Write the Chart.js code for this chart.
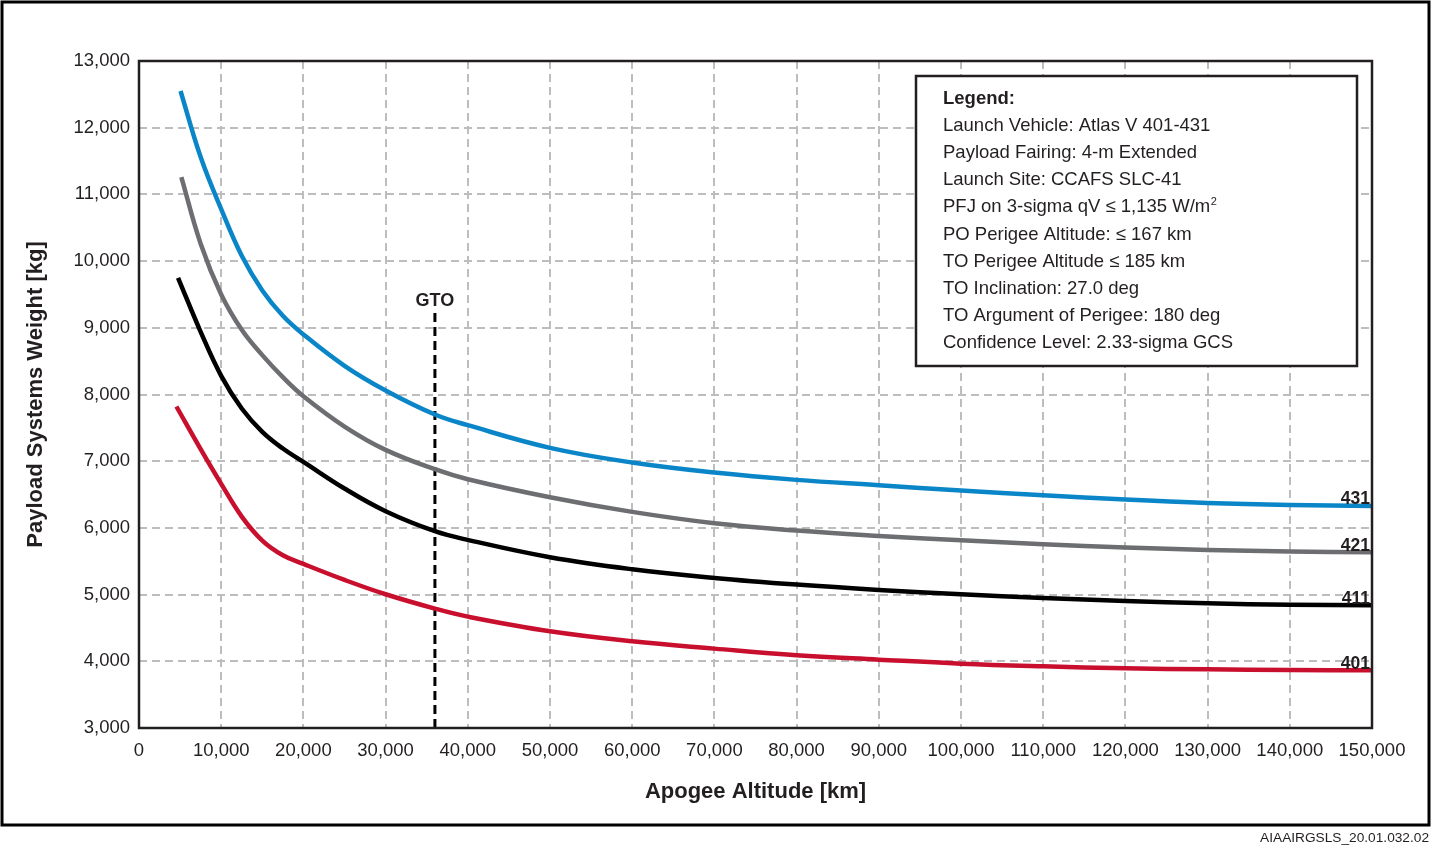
<!DOCTYPE html>
<html>
<head>
<meta charset="utf-8">
<title>Atlas V 401-431 Payload Systems Weight vs Apogee Altitude</title>
<script src="https://cdn.jsdelivr.net/npm/chart.js@4.4.1/dist/chart.umd.min.js"></script>
<style>
  html, body { margin: 0; padding: 0; background: #fff; }
</style>
</head>
<body>
<canvas id="perfChart" width="1432" height="848"></canvas>
<script>
// Data
const altitudeKm = [7500, 10000, 12500, 15000, 17500, 20000, 25000, 30000, 36000, 40000, 50000,
    60000, 70000, 80000, 90000, 100000, 110000, 120000, 130000, 140000, 150000];
const vehicles = ['431', '421', '411', '401'];
const firstKm = [5050, 5150, 4750, 4550];
const firstKg = [12550, 11260, 9750, 7820];
const payload431 = [11560, 10780, 10080, 9560, 9180, 8900, 8430, 8060, 7700, 7540, 7200,
    6980, 6830, 6720, 6640, 6560, 6490, 6425, 6375, 6345, 6330];
const payload421 = [10260, 9500, 8970, 8590, 8260, 7975, 7520, 7170, 6880, 6730, 6460,
    6240, 6070, 5960, 5880, 5815, 5755, 5705, 5670, 5645, 5635];
const payload411 = [8940, 8280, 7790, 7440, 7190, 6990, 6590, 6250, 5950, 5820, 5560,
    5380, 5250, 5150, 5070, 5005, 4950, 4905, 4870, 4848, 4840];
const payload401 = [7180, 6660, 6170, 5810, 5590, 5460, 5220, 5005, 4790, 4670, 4450,
    4300, 4190, 4090, 4025, 3965, 3925, 3895, 3880, 3870, 3865];
const gtoKm = 36000;
const gtoKgRange = [3000, 9240];
const xRange = [0, 150000, 10000];
const yRange = [3000, 13000, 1000];

const legendTitle = 'Legend:';
const legendLines = [
    'Launch Vehicle: Atlas V 401-431',
    'Payload Fairing: 4-m Extended',
    'Launch Site: CCAFS SLC-41',
    'PFJ on 3-sigma qV \u2264 1,135 W/m',
    'PO Perigee Altitude: \u2264 167 km',
    'TO Perigee Altitude \u2264 185 km',
    'TO Inclination: 27.0 deg',
    'TO Argument of Perigee: 180 deg',
    'Confidence Level: 2.33-sigma GCS'
];
const figureId = 'AIAAIRGSLS_20.01.032.02';

const lineColors = ['#0a86c8', '#6d6e71', '#000000', '#c8102e'];
const SANS = '"Liberation Sans", Arial, sans-serif';

const payloads = [payload431, payload421, payload411, payload401];

function buildSeries(i) {
    const pts = [{ x: firstKm[i], y: firstKg[i] }];
    altitudeKm.forEach((km, j) => pts.push({ x: km, y: payloads[i][j] }));
    return {
        label: vehicles[i],
        data: pts,
        borderColor: lineColors[i],
        borderWidth: 4.5,
        pointRadius: 0,
        tension: 0.4,
        fill: false
    };
}

const datasets = vehicles.map((v, i) => buildSeries(i));
datasets.push({
    label: 'GTO',
    data: [{ x: gtoKm, y: gtoKgRange[0] }, { x: gtoKm, y: gtoKgRange[1] }],
    borderColor: '#000',
    borderWidth: 3,
    borderDash: [9, 5],
    pointRadius: 0
});

// Frame, titles, legend box and curve labels
const decorations = {
    id: 'decorations',
    beforeDraw(chart) {
        const ctx = chart.ctx;
        ctx.save();
        ctx.fillStyle = '#fff';
        ctx.fillRect(0, 0, chart.width, chart.height);
        ctx.restore();
    },
    afterDraw(chart) {
        const ctx = chart.ctx;
        const a = chart.chartArea;
        ctx.save();

        // plot frame
        ctx.strokeStyle = '#231f20';
        ctx.lineWidth = 2.5;
        ctx.strokeRect(a.left, a.top, a.right - a.left, a.bottom - a.top);

        // outer border
        ctx.lineWidth = 3;
        ctx.strokeStyle = '#000';
        ctx.strokeRect(2, 2, 1427, 823);

        // axis titles
        ctx.fillStyle = '#231f20';
        ctx.font = 'bold 22px ' + SANS;
        ctx.textAlign = 'center';
        ctx.textBaseline = 'middle';
        ctx.fillText('Apogee Altitude [km]', (a.left + a.right) / 2, 792);
        ctx.save();
        ctx.translate(36, (a.top + a.bottom) / 2);
        ctx.rotate(-Math.PI / 2);
        ctx.fillText('Payload Systems Weight [kg]', 0, 0);
        ctx.restore();

        // legend box
        ctx.fillStyle = '#fff';
        ctx.fillRect(916, 76, 441, 290);
        ctx.strokeStyle = '#231f20';
        ctx.lineWidth = 2.5;
        ctx.strokeRect(916, 76, 441, 290);
        ctx.fillStyle = '#231f20';
        ctx.textAlign = 'left';
        ctx.textBaseline = 'alphabetic';
        ctx.font = 'bold 18.5px ' + SANS;
        ctx.fillText(legendTitle, 943, 103.5);
        ctx.font = '18.5px ' + SANS;
        legendLines.forEach((t, i) => {
            const y = 130.7 + i * 27.2;
            ctx.fillText(t, 943, y);
            if (t.endsWith('W/m')) {
                const w = ctx.measureText(t).width;
                ctx.font = '11px ' + SANS;
                ctx.fillText('2', 943 + w + 0.5, y - 7);
                ctx.font = '18.5px ' + SANS;
            }
        });

        // curve end labels
        ctx.font = 'bold 17.5px ' + SANS;
        ctx.textAlign = 'right';
        vehicles.forEach((v, i) => {
            const meta = chart.getDatasetMeta(i);
            const last = meta.data[meta.data.length - 1];
            ctx.fillText(v, a.right - 2, last.y - 1.5);
        });

        // GTO label
        const gto = chart.getDatasetMeta(vehicles.length).data[1];
        ctx.textAlign = 'center';
        ctx.font = 'bold 18px ' + SANS;
        ctx.fillText('GTO', gto.x, gto.y - 6);

        // figure id
        ctx.font = '13.7px ' + SANS;
        ctx.textAlign = 'right';
        ctx.fillText(figureId, 1429, 842);
        ctx.restore();
    }
};

const gridStyle = { color: '#bdbdbd', lineWidth: 2, drawTicks: false };
const tickFont = { family: SANS, size: 18.5 };

new Chart(document.getElementById('perfChart'), {
    type: 'line',
    data: { datasets: datasets },
    options: {
        responsive: false,
        animation: false,
        layout: { padding: { top: 61, right: 60, left: 0, bottom: 0 } },
        plugins: {
            legend: { display: false },
            tooltip: { enabled: false }
        },
        scales: {
            x: {
                type: 'linear',
                min: xRange[0],
                max: xRange[1],
                grid: gridStyle,
                border: { display: false, dash: [8, 5] },
                ticks: {
                    stepSize: xRange[2],
                    autoSkip: false,
                    padding: 12,
                    color: '#231f20',
                    font: tickFont,
                    maxRotation: 0,
                    callback: v => v.toLocaleString('en-US')
                },
                afterFit: s => { s.height = 120; }
            },
            y: {
                type: 'linear',
                min: yRange[0],
                max: yRange[1],
                grid: gridStyle,
                border: { display: false, dash: [8, 5] },
                ticks: {
                    stepSize: yRange[2],
                    autoSkip: false,
                    padding: 9,
                    color: '#231f20',
                    font: tickFont,
                    callback: v => v.toLocaleString('en-US')
                },
                afterFit: s => { s.width = 139; }
            }
        }
    },
    plugins: [decorations]
});
</script>
</body>
</html>
